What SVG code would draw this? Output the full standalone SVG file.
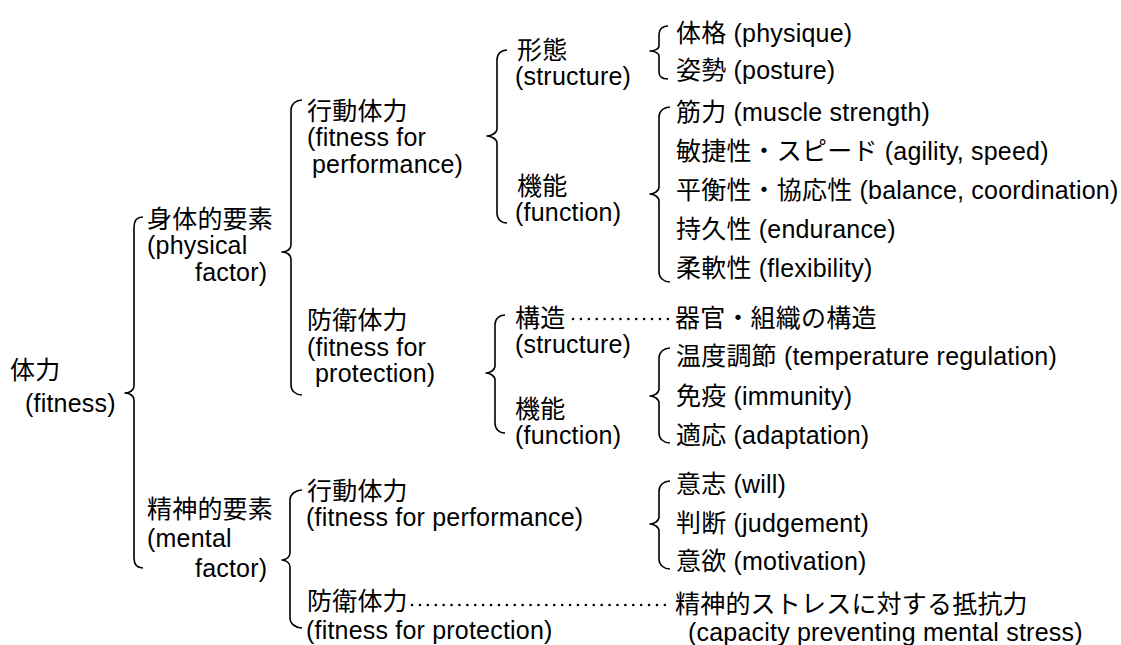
<svg xmlns="http://www.w3.org/2000/svg" width="1121" height="645" viewBox="0 0 1121 645">
<style>
.t{font-family:"Liberation Sans","Noto Sans CJK JP",sans-serif;font-size:25px;letter-spacing:0.2px;fill:#000}
.b{fill:none;stroke:#000;stroke-width:1.6;stroke-linejoin:round}
.d{fill:none;stroke:#000;stroke-width:2.5;stroke-linecap:round;stroke-dasharray:0.1 7.8}
</style>
<rect width="1121" height="645" fill="#fff"/>
<g id="connectors">
<path class="b" d="M143,217 C137,217 134,221 134,227 L134,386 C134,390 130,393 125,393 C130,393 134,396 134,400 L134,558 C134,564 137,568 143,568"/>
<path class="b" d="M302,100 C296,100 291,104 291,110 L291,245 C291,249 287,252 282,252 C287,252 291,255 291,259 L291,385 C291,391 296,395 302,395"/>
<path class="b" d="M302,490 C296,490 290,494 290,500 L290,553 C290,557 286,560 282,560 C286,560 290,563 290,567 L290,618 C290,624 296,628 302,628"/>
<path class="b" d="M507,50 C501,50 497,54 497,60 L497,129 C497,133 491,136 487,136 C491,136 497,139 497,143 L497,213 C497,219 501,223 507,223"/>
<path class="b" d="M505,315 C499,315 495,319 495,325 L495,366 C495,370 490,373 486,373 C490,373 495,376 495,380 L495,423 C495,429 499,433 505,433"/>
<path class="b" d="M668,26 C663,26 659,29 659,34 L659,46 C659,49 654,51 650,51 C654,51 659,53 659,56 L659,72 C659,77 663,79 668,79"/>
<path class="b" d="M670,107 C664,107 659,111 659,117 L659,187 C659,191 654,194 650,194 C654,194 659,197 659,201 L659,272 C659,278 664,282 670,282"/>
<path class="b" d="M670,348 C664,348 659,352 659,358 L659,389 C659,393 654,396 650,396 C654,396 659,399 659,403 L659,433 C659,439 664,443 670,443"/>
<path class="b" d="M670,481 C664,481 659,485 659,491 L659,517 C659,521 654,524 650,524 C654,524 659,527 659,531 L659,559 C659,565 664,569 670,569"/>
<path class="d" d="M573,319 L670,319"/>
<path class="d" d="M412,605 L670,605"/>
</g>
<g id="fitness"><text class="t" x="10" y="379">体力</text><text class="t" x="25" y="412">(fitness)</text></g>
<g id="physical"><text class="t" x="147" y="228">身体的要素</text><text class="t" x="147" y="254">(physical</text><text class="t" x="195" y="281">factor)</text></g>
<g id="mental"><text class="t" x="147" y="518">精神的要素</text><text class="t" x="147" y="547">(mental</text><text class="t" x="195" y="577">factor)</text></g>
<g id="phys-performance"><text class="t" x="307" y="120">行動体力</text><text class="t" x="307" y="146">(fitness for</text><text class="t" x="312" y="173">performance)</text></g>
<g id="phys-protection"><text class="t" x="307" y="329">防衛体力</text><text class="t" x="307" y="356">(fitness for</text><text class="t" x="315" y="382">protection)</text></g>
<g id="ment-performance"><text class="t" x="307" y="500">行動体力</text><text class="t" x="306" y="526">(fitness for performance)</text></g>
<g id="ment-protection"><text class="t" x="307" y="610">防衛体力</text><text class="t" x="306" y="639">(fitness for protection)</text></g>
<g id="perf-structure"><text class="t" x="517" y="59">形態</text><text class="t" x="515" y="85">(structure)</text></g>
<g id="perf-function"><text class="t" x="517" y="195">機能</text><text class="t" x="515" y="221">(function)</text></g>
<g id="prot-structure"><text class="t" x="515" y="327">構造</text><text class="t" x="515" y="353">(structure)</text></g>
<g id="prot-function"><text class="t" x="515" y="418">機能</text><text class="t" x="515" y="444">(function)</text></g>
<g id="physique"><text class="t" x="676" y="42">体格 (physique)</text></g>
<g id="posture"><text class="t" x="676" y="79">姿勢 (posture)</text></g>
<g id="muscle"><text class="t" x="676" y="121">筋力 (muscle strength)</text></g>
<g id="agility"><text class="t" x="676" y="160">敏捷性・スピード (agility, speed)</text></g>
<g id="balance"><text class="t" x="676" y="199">平衡性・協応性 (balance, coordination)</text></g>
<g id="endurance"><text class="t" x="676" y="238">持久性 (endurance)</text></g>
<g id="flexibility"><text class="t" x="676" y="277">柔軟性 (flexibility)</text></g>
<g id="organ"><text class="t" x="675" y="327">器官・組織の構造</text></g>
<g id="temperature"><text class="t" x="676" y="365">温度調節 (temperature regulation)</text></g>
<g id="immunity"><text class="t" x="676" y="405">免疫 (immunity)</text></g>
<g id="adaptation"><text class="t" x="676" y="444">適応 (adaptation)</text></g>
<g id="will"><text class="t" x="676" y="493">意志 (will)</text></g>
<g id="judgement"><text class="t" x="676" y="532">判断 (judgement)</text></g>
<g id="motivation"><text class="t" x="676" y="570">意欲 (motivation)</text></g>
<g id="stress"><text class="t" x="675" y="613">精神的ストレスに対する抵抗力</text><text class="t" x="688" y="641">(capacity preventing mental stress)</text></g>
</svg>
